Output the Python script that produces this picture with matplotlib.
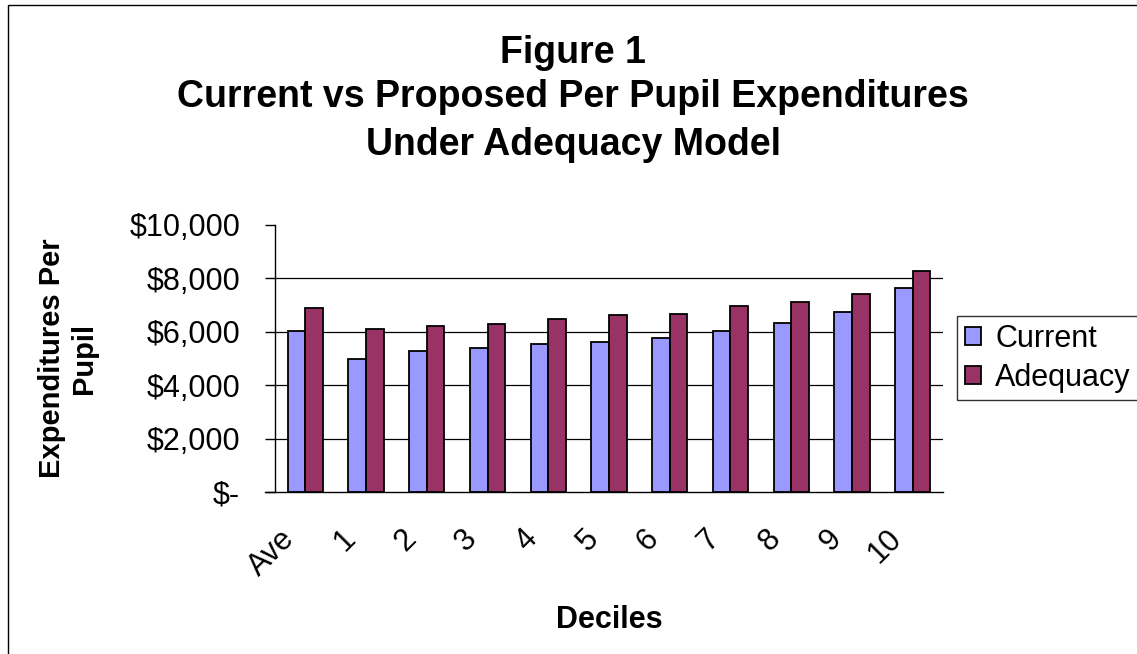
import matplotlib.pyplot as plt
import matplotlib.patches as patches
from matplotlib.ticker import FuncFormatter
import matplotlib.transforms as mtransforms
import numpy as np

plt.rcParams['font.family'] = ['Liberation Sans', 'DejaVu Sans']

# Data
deciles = ['Ave', '1', '2', '3', '4', '5', '6', '7', '8', '9', '10']
current = [6020, 4980, 5280, 5410, 5540, 5630, 5760, 6030, 6330, 6750, 7630]
adequacy = [6880, 6120, 6220, 6290, 6480, 6630, 6680, 6950, 7130, 7410, 8280]
y_ticks = [0, 2000, 4000, 6000, 8000, 10000]
title_lines = ['Figure 1', 'Current vs Proposed Per Pupil Expenditures', 'Under Adequacy Model']

W, H = 1137, 654
fig = plt.figure(figsize=(W / 100, H / 100), dpi=100)
ax = fig.add_axes([275 / W, 1 - 492 / H, 668 / W, 267 / H])

x = np.arange(len(deciles))
w = 0.29
ax.bar(x - w / 2, current, w, color='#9999FF', edgecolor='black', linewidth=1.3, label='Current', zorder=3)
ax.bar(x + w / 2, adequacy, w, color='#993366', edgecolor='black', linewidth=1.3, label='Adequacy', zorder=3)

ax.set_xlim(-0.5, len(deciles) - 0.5)
ax.set_ylim(0, 10000)
ax.set_yticks(y_ticks)


def dollars(v, pos):
    if v == 0:
        return '$-'
    return '${:,.0f}'.format(v)


ax.yaxis.set_major_formatter(FuncFormatter(dollars))
ax.tick_params(axis='y', direction='out', length=7, width=1, pad=18, labelsize=22)
ax.grid(axis='y', color='black', linewidth=0.9, zorder=0)
ax.yaxis.get_gridlines()[-1].set_visible(False)
ax.yaxis.get_gridlines()[0].set_visible(False)

ax.set_xticks(x)
ax.set_xticklabels(deciles, rotation=45, ha='right', va='top', rotation_mode='anchor', fontsize=22)
ax.tick_params(axis='x', length=0, pad=23)
shift = mtransforms.ScaledTranslation(-26 / 100, 0, fig.dpi_scale_trans)
for lab in ax.get_xticklabels():
    lab.set_transform(lab.get_transform() + shift)

for s in ['top', 'right']:
    ax.spines[s].set_visible(False)
ax.spines['left'].set_linewidth(1)
ax.spines['bottom'].set_linewidth(1)
ax.spines['bottom'].set_bounds(-0.5 - 10 / 60.7, len(deciles) - 0.5)

ax.set_xlabel('Deciles', fontsize=22, fontweight='bold')
ax.xaxis.set_label_coords(0.5, -0.423)
ax.set_ylabel('Expenditures Per\nPupil', fontsize=21, fontweight='bold', linespacing=1.2)
ax.yaxis.set_label_coords(-0.265, 0.5)

# title, one line at a time (baselines from the picture)
for line, base in zip(title_lines, [63, 107, 155]):
    fig.text(573 / W, 1 - base / H, line, ha='center', va='baseline',
             fontsize=27, fontweight='bold')

leg = fig.legend(loc='upper left', bbox_to_anchor=(957 / W, 1 - 316 / H),
                 bbox_transform=fig.transFigure, fontsize=22, frameon=True,
                 fancybox=False, borderaxespad=0, handlelength=0.55, handleheight=0.55,
                 handletextpad=0.45, borderpad=0.25, labelspacing=0.3)
leg.get_frame().set_edgecolor('black')
leg.get_frame().set_linewidth(1)

# outer chart border
fig.patches.append(patches.Rectangle((8 / W, -0.1), 1.2, 1.1 - 5 / H,
                                     transform=fig.transFigure, fill=False,
                                     edgecolor='black', linewidth=1))

fig.savefig('out.png', dpi=100)
